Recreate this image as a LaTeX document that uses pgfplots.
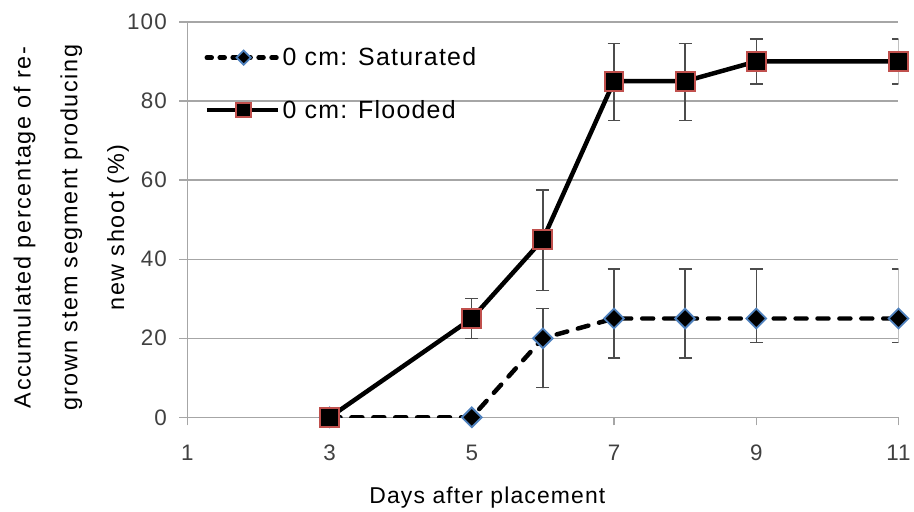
\documentclass[border=0pt]{standalone}
\usepackage{pgfplots}
\pgfplotsset{compat=1.18}
\usepackage{fontspec}
\setmainfont{Liberation Sans}
\newfontfamily\chartfont[LetterSpace=5]{Liberation Sans}
\newfontfamily\ylabfont[LetterSpace=7]{Liberation Sans}
\usetikzlibrary{calc}
\definecolor{satblue}{HTML}{4F81BD}
\definecolor{floodred}{HTML}{C0504D}
\definecolor{gridgray}{HTML}{A6A6A6}

\pgfplotsset{
    satleg/.style={legend image code/.code={\draw[##1, dash pattern=on 5pt off 8pt, mark size=5pt, mark repeat=2, mark phase=2] plot coordinates {(0pt,0pt) (37pt,0pt) (72pt,0pt)};}},
    floodleg/.style={legend image code/.code={\draw[##1, mark size=7.5pt, mark repeat=2, mark phase=2] plot coordinates {(0pt,0pt) (37pt,0pt) (72pt,0pt)};}},
}

\begin{document}
\begin{tikzpicture}
\begin{axis}[
    scale only axis,
    width=714pt, height=397pt,
    xmin=1, xmax=11, ymin=0, ymax=100,
    xtick={1,3,5,7,9,11},
    ytick={0,20,40,60,80,100},
    axis x line*=bottom, axis y line*=left,
    axis line style={gridgray, line width=1.2pt, -},
    ymajorgrids,
    grid style={gridgray, line width=1.2pt},
    tick align=outside,
    major tick length=8pt,
    tick style={gridgray, line width=1.2pt},
    /pgf/number format/assume math mode=true,
    ticklabel style={font=\chartfont\fontsize{22.5}{25}\selectfont, text=black!75},
    yticklabel style={xshift=-9pt},
    xticklabel style={yshift=-16pt},
    xlabel={Days after placement},
    xlabel style={at={(axis description cs:0.422,-0.2166)}, anchor=base, font=\chartfont\fontsize{23}{26}\selectfont},
    ylabel={Accumulated percentage of re-\\grown stem segment producing\\new shoot (\%)},
    ylabel style={at={(axis description cs:-0.163,0.48)}, anchor=center, align=center, rotate=0, font=\ylabfont\fontsize{23.5}{47}\selectfont},
    legend style={draw=none, fill=none, at={(axis description cs:0.024,0.94)}, anchor=north west,
        font=\chartfont\fontsize{25}{28}\selectfont, row sep=29pt, inner sep=0pt},
    legend cell align=left,
    error bars/error bar style={line width=1.3pt, black!70, solid},
    error bars/error mark options={rotate=90, mark size=6.5pt, line width=1.3pt, black!70},
]
\addplot[black, line width=4.5pt, dash pattern=on 11pt off 11pt, line cap=round,
    mark=square*, mark size=7pt, mark options={solid, rotate=45, fill=black, draw=satblue, line width=1.8pt},
    satleg,
    error bars/.cd, y dir=both, y explicit]
coordinates {
    (3,0)
    (5,0)
    (6,20) += (0,7.5) -= (0,12.5)
    (7,25) += (0,12.5) -= (0,10)
    (8,25) += (0,12.5) -= (0,10)
    (9,25) += (0,12.5) -= (0,6)
    (11,25) += (0,12.5) -= (0,6)
};
\addlegendentry{0 cm: Saturated}

\addplot[black, line width=4.5pt,
    mark=square*, mark size=9.5pt, mark options={solid, fill=black, draw=floodred, line width=2pt},
    floodleg,
    error bars/.cd, y dir=both, y explicit]
coordinates {
    (3,0)
    (5,25) += (0,5) -= (0,5)
    (6,45) += (0,12.5) -= (0,13)
    (7,85) += (0,9.5) -= (0,10)
    (8,85) += (0,9.5) -= (0,10)
    (9,90) += (0,5.7) -= (0,5.7)
    (11,90) += (0,5.7) -= (0,5.7)
};
\addlegendentry{0 cm: Flooded}
\end{axis}
\path ($(current axis.south west)+(-188pt,-90pt)$) rectangle ($(current axis.north east)+(12pt,22pt)$);
\end{tikzpicture}
\end{document}
